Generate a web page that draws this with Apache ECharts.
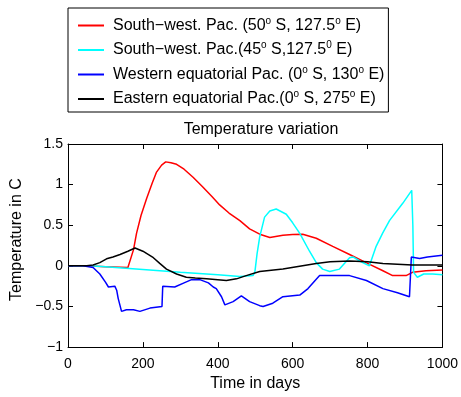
<!DOCTYPE html>
<html>
<head>
<meta charset="utf-8">
<script src="https://cdn.jsdelivr.net/npm/echarts@6/dist/echarts.min.js"></script>
<style>html,body{margin:0;padding:0;background:#fff}#c{width:461px;height:397px}</style>
</head>
<body>
<div id="c"></div>
<script>
// ---- data ----
const seriesNames = ['red', 'cyan', 'blue', 'black'];
const legendLabels = [
  'South\u2212west. Pac. (50{s|o} S, 127.5{s|o} E)',
  'South\u2212west. Pac.(45{s|o} S,127.5{s|0} E)',
  'Western equatorial Pac. (0{s|o} S, 130{s|o} E)',
  'Eastern equatorial Pac.(0{s|o} S, 275{s|o} E)'
];
const titleText = 'Temperature variation';
const xLabel = 'Time in days';
const yLabel = 'Temperature in C';

const redDays = [0, 50, 100, 160, 165, 175, 183, 195, 210, 225, 236, 250, 261, 275, 290, 310, 334, 360, 385, 405, 430, 459, 485, 512, 539, 574, 600, 627, 663, 707, 752, 796, 841, 867, 903, 920, 956, 1000];
const redVals = [0, 0, -0.01, -0.02, 0, 0.2, 0.40, 0.62, 0.83, 1.02, 1.15, 1.24, 1.28, 1.27, 1.25, 1.19, 1.09, 0.97, 0.85, 0.75, 0.65, 0.556, 0.456, 0.39, 0.35, 0.377, 0.385, 0.39, 0.34, 0.24, 0.14, 0.04, -0.06, -0.12, -0.12, -0.08, -0.06, -0.05];

const cyanDays = [0, 60, 100, 200, 300, 400, 459, 494, 499, 505, 512, 525, 539, 556, 583, 600, 619, 645, 663, 680, 699, 725, 752, 761, 779, 805, 823, 840, 859, 894, 918, 921, 923, 933, 950, 974, 1000];
const cyanVals = [0, 0, -0.01, -0.045, -0.08, -0.11, -0.13, -0.12, -0.08, 0.15, 0.357, 0.60, 0.675, 0.70, 0.635, 0.53, 0.40, 0.18, 0.04, -0.04, -0.07, -0.04, 0.10, 0.11, 0.06, 0.0, 0.24, 0.40, 0.56, 0.77, 0.93, 0.5, -0.08, -0.14, -0.10, -0.10, -0.11];

const blueDays = [0, 40, 67, 85, 100, 108, 125, 130, 134, 143, 156, 175, 192, 219, 251, 253, 285, 310, 330, 352, 375, 388, 396, 410, 419, 441, 463, 485, 512, 521, 547, 574, 619, 641, 660, 672, 752, 797, 841, 880, 912, 916, 917, 939, 960, 1000];
const blueVals = [0, 0, -0.02, -0.1, -0.2, -0.26, -0.25, -0.3, -0.40, -0.56, -0.54, -0.54, -0.56, -0.52, -0.50, -0.25, -0.26, -0.21, -0.17, -0.17, -0.21, -0.26, -0.28, -0.38, -0.48, -0.44, -0.37, -0.44, -0.49, -0.50, -0.46, -0.38, -0.36, -0.28, -0.18, -0.12, -0.12, -0.18, -0.28, -0.33, -0.38, -0.38, 0.11, 0.09, 0.11, 0.13];

const blackDays = [0, 50, 67, 85, 103, 120, 139, 160, 179, 200, 228, 245, 263, 290, 316, 340, 370, 400, 423, 450, 476, 512, 574, 663, 700, 752, 800, 841, 880, 920, 1000];
const blackVals = [0, 0, 0.01, 0.04, 0.087, 0.11, 0.14, 0.18, 0.22, 0.18, 0.10, 0.03, -0.04, -0.10, -0.14, -0.15, -0.16, -0.17, -0.18, -0.16, -0.12, -0.07, -0.04, 0.03, 0.05, 0.06, 0.05, 0.03, 0.02, 0.01, 0.01];

const xTicks = { min: 0, max: 1000, interval: 200 };
const yTicks = { min: -1, max: 1.5, interval: 0.5 };

// ---- build ----
const colors = ['#ff0000', '#00ffff', '#0000ff', '#000000'];
const dayArrs = [redDays, cyanDays, blueDays, blackDays];
const valArrs = [redVals, cyanVals, blueVals, blackVals];
const font = 'Liberation Sans, Arial, Helvetica, sans-serif';

const series = seriesNames.map((n, i) => ({
  name: n,
  type: 'line',
  xAxisIndex: 0,
  yAxisIndex: 0,
  showSymbol: false,
  symbol: 'none',
  smooth: false,
  lineStyle: { color: colors[i], width: 1.5 },
  itemStyle: { color: colors[i] },
  data: dayArrs[i].map((d, k) => [d, valArrs[i][k]])
}));

const fmtNum = v => String(v).replace('-', '\u2212');
const axisCommon = {
  axisLine: { show: true, onZero: false, lineStyle: { color: '#000', width: 1 } },
  axisTick: { show: true, inside: true, length: 5, lineStyle: { color: '#000' } },
  splitLine: { show: false }
};

const chart = echarts.init(document.getElementById('c'), null, { renderer: 'canvas' });
chart.setOption({
  animation: false,
  backgroundColor: '#fff',
  title: {
    text: titleText,
    left: 256, textAlign: 'center', top: 117,
    textStyle: { fontFamily: font, fontSize: 16, fontWeight: 'normal', color: '#000' }
  },
  legend: {
    orient: 'vertical',
    left: 68, top: 8,
    padding: [8, 4, 5, 10],
    itemWidth: 26, itemHeight: 14, itemGap: 7,
    borderColor: '#000', borderWidth: 1,
    backgroundColor: '#fff',
    icon: 'path://M0,6 L26,6 L26,8 L0,8 Z',
    data: seriesNames,
    formatter: n => legendLabels[seriesNames.indexOf(n)],
    textStyle: {
      fontFamily: font, fontSize: 16, color: '#000', padding: [0, 0, 0, 4],
      rich: { s: { fontFamily: font, fontSize: 10, padding: [0, 0, 9, 0], color: '#000' } }
    }
  },
  grid: { left: 68, right: 18, top: 144, bottom: 43, containLabel: false },
  xAxis: [
    Object.assign({}, axisCommon, {
      type: 'value', position: 'bottom', min: xTicks.min, max: xTicks.max, interval: xTicks.interval,
      name: xLabel, nameLocation: 'middle', nameGap: 27,
      nameTextStyle: { fontFamily: font, fontSize: 16, color: '#000' },
      axisLabel: { fontFamily: font, fontSize: 14, color: '#000', margin: 10, formatter: v => String(v) }
    }),
    Object.assign({}, axisCommon, {
      type: 'value', position: 'top', min: xTicks.min, max: xTicks.max, interval: xTicks.interval,
      axisLabel: { show: false }
    })
  ],
  yAxis: [
    Object.assign({}, axisCommon, {
      type: 'value', position: 'left', min: yTicks.min, max: yTicks.max, interval: yTicks.interval,
      name: yLabel, nameLocation: 'middle', nameGap: 38, nameRotate: 90,
      nameTextStyle: { fontFamily: font, fontSize: 16, color: '#000', padding: [0, 0, 0, 12] },
      axisLabel: { fontFamily: font, fontSize: 14, color: '#000', margin: 5, formatter: fmtNum }
    }),
    Object.assign({}, axisCommon, {
      type: 'value', position: 'right', min: yTicks.min, max: yTicks.max, interval: yTicks.interval,
      axisLabel: { show: false }
    })
  ],
  series: series
});
</script>
</body>
</html>
